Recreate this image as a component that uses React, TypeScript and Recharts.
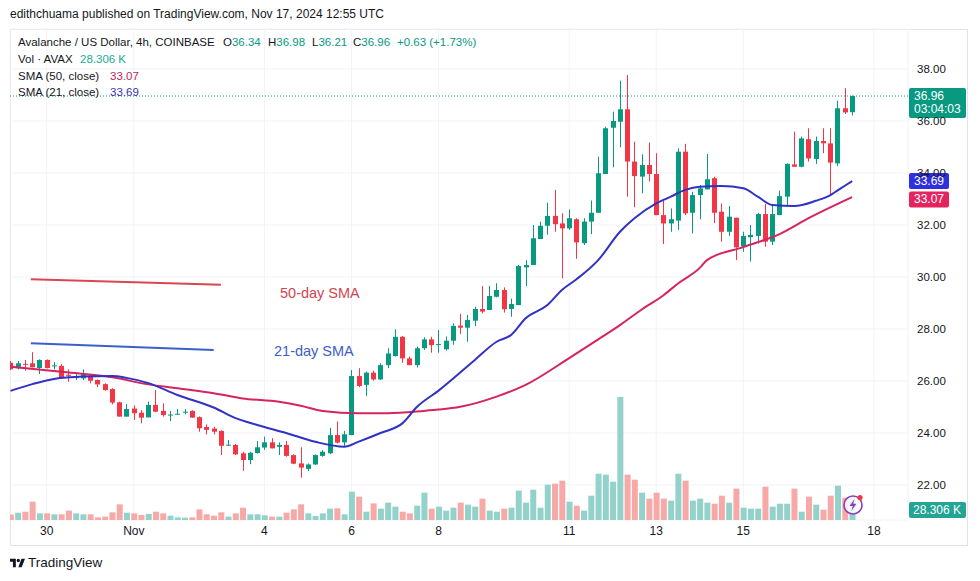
import {
  ComposedChart,
  Bar,
  Line,
  XAxis,
  YAxis,
  CartesianGrid,
  ReferenceLine,
  Cell,
} from "recharts";

const FONT = '"Liberation Sans", Arial, sans-serif';
const INK = "#131722";
const UP = "#089981";
const DOWN = "#f23645";
const VOL_UP = "#92d2ca";
const VOL_DOWN = "#f7a9a7";
const SMA50_COLOR = "#d6245e";
const SMA21_COLOR = "#3131c6";

// 4h candles, Oct 29 04:00 -> Nov 17 12:00
const opens = [
  26.7, 26.49, 26.66, 26.68, 26.5, 26.81, 26.58, 26.58, 26.24, 26.13,
  26.1, 26.17, 26.04, 25.88, 25.69, 25.18, 24.63, 24.94, 24.78, 24.6,
  25.08, 24.85, 24.68, 24.72, 24.8, 24.85, 24.61, 24.23, 24.17, 24.08,
  23.52, 23.54, 23.22, 22.96, 23.23, 23.44, 23.64, 23.47, 23.54, 23.15,
  22.83, 22.62, 22.79, 23.12, 23.22, 23.92, 23.64, 23.92, 26.19, 25.85,
  26.32, 26.06, 26.61, 26.96, 27.7, 26.87, 26.61, 27.26, 27.6, 27.38,
  27.22, 27.55, 28.13, 28.05, 28.32, 28.77, 28.73, 29.24, 29.5, 28.77,
  28.92, 30.37, 30.46, 31.46, 31.97, 32.35, 32.06, 31.87, 32.22, 31.3,
  32.13, 32.47, 33.96, 35.74, 35.97, 36.45, 34.44, 33.86, 34.31, 33.96,
  32.38, 32.06, 32.17, 34.82, 32.47, 33.15, 33.37, 33.8, 32.51, 31.74,
  32.28, 31.17, 31.53, 31.58, 32.42, 31.36, 32.38, 33.09, 34.33, 34.24,
  35.3, 34.54, 35.23, 35.14, 34.37, 36.49, 36.34,
];
const highs = [
  26.77, 26.77, 26.81, 27.11, 26.83, 26.83, 26.73, 26.65, 26.45, 26.3,
  26.45, 26.23, 26.06, 25.91, 25.72, 25.2, 25.11, 25.06, 24.88, 25.21,
  25.65, 25.14, 24.85, 24.92, 24.92, 24.87, 24.64, 24.33, 24.24, 24.1,
  23.73, 23.58, 23.28, 23.28, 23.69, 23.86, 23.8, 23.64, 23.7, 23.18,
  23.45, 22.83, 23.18, 23.35, 24.2, 24.44, 24.08, 26.42, 26.49, 26.36,
  26.4, 26.68, 27.26, 27.99, 27.73, 26.94, 27.32, 27.68, 27.7, 27.96,
  27.71, 28.22, 28.58, 28.54, 28.86, 29.65, 29.65, 29.76, 29.6, 29.17,
  30.46, 30.65, 32.0, 32.13, 32.86, 33.35, 32.45, 32.6, 32.26, 32.26,
  32.94, 34.63, 35.78, 36.36, 37.55, 37.77, 35.2, 34.72, 35.17, 34.76,
  32.96, 32.64, 34.95, 35.12, 33.28, 33.54, 34.73, 33.86, 32.83, 32.73,
  32.28, 31.74, 32.0, 32.47, 32.81, 32.73, 33.32, 34.37, 35.59, 35.4,
  35.72, 35.4, 35.72, 35.72, 36.78, 37.26, 36.98,
];
const lows = [
  26.42, 26.45, 26.4, 26.52, 26.27, 26.48, 26.45, 26.1, 25.97, 26.04,
  26.04, 25.91, 25.76, 25.63, 25.1, 24.63, 24.63, 24.5, 24.37, 24.6,
  24.8, 24.63, 24.46, 24.71, 24.72, 24.59, 24.05, 23.95, 23.95, 23.15,
  23.51, 23.15, 22.54, 22.8, 23.21, 23.35, 23.41, 23.15, 23.09, 22.8,
  22.28, 22.54, 22.77, 23.09, 23.19, 23.6, 23.47, 23.92, 25.76, 25.42,
  26.01, 26.04, 26.49, 26.94, 26.7, 26.61, 26.52, 27.19, 27.09, 27.09,
  27.17, 27.39, 27.81, 27.51, 28.11, 28.6, 28.73, 29.22, 28.63, 28.47,
  28.92, 29.65, 30.46, 31.46, 31.62, 31.74, 29.95, 31.81, 30.7, 31.23,
  31.65, 32.47, 33.96, 34.22, 34.99, 33.09, 32.68, 33.22, 33.67, 32.38,
  31.27, 31.74, 31.81, 32.38, 31.68, 32.22, 33.37, 32.07, 31.36, 31.58,
  30.65, 30.97, 30.59, 31.29, 31.17, 31.23, 32.38, 32.73, 34.24, 34.22,
  34.44, 34.35, 34.76, 33.15, 34.27, 36.27, 36.21,
];
const closes = [
  26.45, 26.68, 26.63, 26.53, 26.81, 26.5, 26.6, 26.14, 26.2, 26.15,
  26.26, 26.01, 25.87, 25.65, 25.17, 24.63, 24.92, 24.76, 24.59, 25.08,
  24.82, 24.69, 24.71, 24.74, 24.82, 24.59, 24.18, 24.12, 24.05, 23.51,
  23.55, 23.18, 22.96, 23.24, 23.45, 23.64, 23.41, 23.54, 23.12, 22.82,
  22.67, 22.79, 23.15, 23.28, 23.92, 23.63, 23.95, 26.19, 25.81, 26.32,
  26.06, 26.61, 27.06, 27.7, 26.87, 26.61, 27.26, 27.6, 27.38, 27.42,
  27.55, 28.12, 28.05, 28.35, 28.77, 28.67, 29.27, 29.5, 28.76, 28.96,
  30.42, 30.46, 31.49, 31.97, 32.35, 32.03, 31.87, 32.26, 31.33, 32.13,
  32.47, 33.99, 35.72, 36.0, 36.45, 34.44, 33.88, 34.31, 33.96, 32.38,
  32.06, 32.22, 34.82, 32.45, 33.15, 33.41, 33.76, 32.47, 31.74, 32.32,
  31.14, 31.58, 31.62, 32.42, 31.36, 32.42, 33.11, 34.35, 34.24, 35.33,
  34.56, 35.23, 35.14, 34.4, 36.49, 36.33, 36.96,
];
// volume, thousands of AVAX
const volumes = [
  7.0, 9.2, 10.4, 22.9, 8.3, 8.3, 7.1, 7.1, 11.7, 8.3,
  7.1, 7.1, 3.3, 4.2, 9.6, 19.6, 9.2, 8.3, 6.3, 7.5,
  10.4, 8.3, 5.4, 3.3, 2.9, 3.3, 13.3, 7.1, 5.4, 9.6,
  4.2, 8.3, 15.4, 7.1, 7.1, 5.8, 4.2, 4.2, 9.2, 13.3,
  19.6, 8.3, 5.0, 8.3, 14.2, 14.6, 7.1, 35.4, 29.2, 10.4,
  20.8, 14.2, 21.7, 16.7, 10.4, 8.3, 17.9, 34.2, 14.2, 16.7,
  11.7, 15.4, 21.7, 19.2, 16.7, 26.7, 11.7, 10.4, 14.2, 15.4,
  36.7, 21.7, 37.9, 15.4, 44.2, 45.4, 49.2, 22.9, 17.9, 11.7,
  30.4, 57.9, 56.7, 47.9, 154, 56.7, 50.4, 34.2, 26.7, 34.2,
  26.7, 24.2, 57.9, 49.2, 24.2, 26.7, 21.7, 20.4, 30.4, 21.7,
  39.2, 15.4, 14.2, 14.2, 41.7, 16.7, 20.4, 20.4, 39.2, 10.4,
  29.2, 19.2, 12.9, 30.4, 42.9, 28.0, 28.306,
];

// moving averages: [candle index, value]
const sma21Pts = [
  [0, 25.62], [3, 25.88], [6, 26.08], [10, 26.17], [14, 26.19], [16, 26.12],
  [19, 25.92], [23, 25.46], [28, 24.98], [31, 24.57], [34, 24.31], [38, 24.0],
  [42, 23.66], [46, 23.47], [48, 23.67], [51, 24.0], [54, 24.37], [56, 25.0],
  [59, 25.63], [64, 26.81], [67, 27.51], [69, 27.77], [71, 28.41], [74, 28.92],
  [76, 29.5], [78, 29.91], [81, 30.65], [84, 31.74], [86, 32.26], [89, 32.83],
  [91, 33.09], [93, 33.35], [95, 33.47], [98, 33.5], [101, 33.41], [103, 33.09],
  [105, 32.77], [108, 32.73], [111, 32.93], [113, 33.15], [114, 33.33],
  [115, 33.51], [116, 33.69],
];
const sma50Pts = [
  [0, 26.55], [7, 26.36], [14, 26.14], [19, 25.87], [23, 25.72], [28, 25.53],
  [32, 25.33], [37, 25.2], [40, 25.05], [43, 24.85], [48, 24.76], [52, 24.76],
  [57, 24.85], [59, 24.9], [62, 25.01], [67, 25.4], [71, 25.85], [77, 26.88],
  [81, 27.6], [84, 28.15], [87, 28.75], [90, 29.3], [92, 29.75], [95, 30.35],
  [96, 30.65], [101, 31.15], [106, 31.65], [110, 32.26], [116, 33.07],
];

// hand-drawn annotation lines (candle index, price)
const note50Line = [[2.8, 29.91], [29.0, 29.7]];
const note21Line = [[2.8, 27.45], [28.0, 27.19]];

const xTickIdx = [5, 17, 35, 47, 59, 77, 89, 101, 119];
const xTickLabels = ["30", "Nov", "4", "6", "8", "11", "13", "15", "18"];
const priceTicks = [22, 24, 26, 28, 30, 32, 34, 36, 38];

const X_DOMAIN = [-0.07, 123.7];
const P_DOMAIN = [20.654, 39.538];
const V_DOMAIN = [0, 614];

const candles = opens.map((o, i) => ({
  i,
  o,
  h: highs[i],
  l: lows[i],
  c: closes[i],
  v: volumes[i],
  range: [lows[i], highs[i]],
}));
const sma21Data = sma21Pts.map(([i, v]) => ({ i, v }));
const sma50Data = sma50Pts.map(([i, v]) => ({ i, v }));

function Candle(props: any) {
  const { x, y, width, height, payload } = props;
  if (!payload || x == null) return null;
  const { o, h, l, c } = payload;
  const color = c >= o ? UP : DOWN;
  const k = h === l ? 0 : height / (h - l);
  const top = y + (h - Math.max(o, c)) * k;
  const bot = y + (h - Math.min(o, c)) * k;
  const cx = Math.round(x + width / 2) + 0.5;
  return (
    <g>
      <line x1={cx} x2={cx} y1={y} y2={y + height} stroke={color} strokeWidth={1} />
      <rect x={cx - width / 2} y={top} width={width} height={Math.max(1, bot - top)} fill={color} />
    </g>
  );
}

function PriceTag(props: any) {
  const { viewBox, bg, lines, w, dy = 0 } = props;
  if (!viewBox) return null;
  const x = viewBox.x + viewBox.width + 1;
  const cy = viewBox.y + dy;
  const two = lines.length > 1;
  const h = two ? 30 : 16;
  const top = two ? cy - 8 : cy - h / 2;
  return (
    <g>
      <rect x={x} y={top} width={w} height={h} rx={2} fill={bg} />
      {lines.map((t: string, k: number) => (
        <text
          key={k}
          x={x + 5}
          y={top + 8 + k * 13}
          dominantBaseline="central"
          fill="#ffffff"
          fontSize={12}
          fontFamily={FONT}
        >
          {t}
        </text>
      ))}
    </g>
  );
}

function LightningIcon() {
  return (
    <svg width={26} height={26} style={{ position: "absolute", left: 840, top: 492 }}>
      <circle cx={13} cy={13} r={9} fill="rgba(255,255,255,0.8)" stroke="#8e3fb8" strokeWidth={1.6} />
      <path d="M14.5 7 L9.5 14 H12.8 L11.3 19 L16.5 11.8 H13.2 Z" fill="#8e3fb8" />
      <circle cx={20} cy={5.5} r={2.6} fill="#f23645" />
    </svg>
  );
}

export default function App() {
  const last = candles[candles.length - 1];
  const prev = candles[candles.length - 2];
  const chg = last.c - prev.c;
  const pct = (chg / prev.c) * 100;
  const sma21Last = sma21Data[sma21Data.length - 1].v;
  const sma50Last = sma50Data[sma50Data.length - 1].v;

  const legendRow = (top: number) => ({
    position: "absolute" as const,
    top,
    fontSize: 11.5,
    lineHeight: "14px",
    whiteSpace: "nowrap" as const,
  });

  return (
    <div
      style={{
        position: "absolute",
        left: 0,
        top: 0,
        width: 980,
        height: 581,
        background: "#ffffff",
        overflow: "hidden",
        fontFamily: FONT,
        color: INK,
      }}
    >
      <div style={{ position: "absolute", left: 10, top: 6, fontSize: 12, lineHeight: "16px" }}>
        edithchuama published on TradingView.com, Nov 17, 2024 12:55 UTC
      </div>

      <div
        style={{
          position: "absolute",
          left: 10,
          top: 29,
          width: 958,
          height: 517,
          border: "1px solid #e0e3eb",
          boxSizing: "border-box",
        }}
      />

      <ComposedChart
        width={980}
        height={581}
        data={candles}
        margin={{ top: 29, right: 0, bottom: 35, left: 10 }}
        style={{ position: "absolute", left: 0, top: 0 }}
      >
        <CartesianGrid xAxisId="a" yAxisId="price" stroke="#f0f3fa" />
        <XAxis
          xAxisId="a"
          dataKey="i"
          type="number"
          domain={X_DOMAIN}
          allowDataOverflow
          ticks={xTickIdx}
          interval={0}
          tickFormatter={(v) => xTickLabels[xTickIdx.indexOf(v)] ?? ""}
          axisLine={false}
          tickLine={false}
          tickSize={0}
          tickMargin={6}
          height={26}
          tick={{ fontSize: 12, fill: INK, fontFamily: FONT }}
        />
        <XAxis xAxisId="b" dataKey="i" type="number" domain={X_DOMAIN} allowDataOverflow hide />
        <YAxis
          yAxisId="price"
          orientation="right"
          domain={P_DOMAIN}
          allowDataOverflow
          ticks={priceTicks}
          interval={0}
          width={72}
          axisLine={false}
          tickLine={false}
          tickSize={0}
          tickMargin={9}
          tickFormatter={(v) => Number(v).toFixed(2)}
          tick={{ fontSize: 11.5, fill: INK, fontFamily: FONT }}
        />
        <YAxis yAxisId="vol" domain={V_DOMAIN} allowDataOverflow hide />

        <Bar xAxisId="b" yAxisId="vol" dataKey="v" barSize={6} isAnimationActive={false}>
          {candles.map((d) => (
            <Cell key={d.i} fill={d.c >= d.o ? VOL_UP : VOL_DOWN} />
          ))}
        </Bar>

        <Bar
          xAxisId="a"
          yAxisId="price"
          dataKey="range"
          barSize={5}
          shape={Candle}
          isAnimationActive={false}
        />

        <Line
          xAxisId="a"
          yAxisId="price"
          data={sma50Data}
          dataKey="v"
          type="monotone"
          stroke={SMA50_COLOR}
          strokeWidth={2}
          dot={false}
          isAnimationActive={false}
        />
        <Line
          xAxisId="a"
          yAxisId="price"
          data={sma21Data}
          dataKey="v"
          type="monotone"
          stroke={SMA21_COLOR}
          strokeWidth={2}
          dot={false}
          isAnimationActive={false}
        />

        <ReferenceLine
          xAxisId="a"
          yAxisId="price"
          segment={note50Line.map(([x, y]) => ({ x, y }))}
          stroke="#d9464e"
          strokeWidth={2}
        />
        <ReferenceLine
          xAxisId="a"
          yAxisId="price"
          segment={note21Line.map(([x, y]) => ({ x, y }))}
          stroke="#3c5fcc"
          strokeWidth={2}
        />

        <ReferenceLine
          xAxisId="a"
          yAxisId="price"
          y={last.c}
          stroke={UP}
          strokeDasharray="1 2"
          label={<PriceTag bg={UP} w={57} lines={[last.c.toFixed(2), "03:04:03"]} />}
        />
        <ReferenceLine
          xAxisId="a"
          yAxisId="price"
          y={sma21Last}
          stroke="none"
          label={<PriceTag bg="#2f2fe0" w={40} lines={[sma21Last.toFixed(2)]} />}
        />
        <ReferenceLine
          xAxisId="a"
          yAxisId="price"
          y={sma50Last}
          stroke="none"
          label={<PriceTag bg="#e3245f" w={40} dy={2.3} lines={[sma50Last.toFixed(2)]} />}
        />
      </ComposedChart>

      <div style={{ ...legendRow(35), left: 18 }}>Avalanche / US Dollar, 4h, COINBASE</div>
      <div style={{ ...legendRow(35), left: 223 }}>
        O<span style={{ color: UP }}>{last.o.toFixed(2)}</span>
      </div>
      <div style={{ ...legendRow(35), left: 268 }}>
        H<span style={{ color: UP }}>{last.h.toFixed(2)}</span>
      </div>
      <div style={{ ...legendRow(35), left: 312 }}>
        L<span style={{ color: UP }}>{last.l.toFixed(2)}</span>
      </div>
      <div style={{ ...legendRow(35), left: 353 }}>
        C<span style={{ color: UP }}>{last.c.toFixed(2)}</span>
      </div>
      <div style={{ ...legendRow(35), left: 397, color: UP }}>
        {`+${chg.toFixed(2)} (+${pct.toFixed(2)}%)`}
      </div>

      <div style={{ ...legendRow(52), left: 18 }}>Vol · AVAX</div>
      <div style={{ ...legendRow(52), left: 80, color: "#22ab94" }}>{`${last.v.toFixed(3)} K`}</div>
      <div style={{ ...legendRow(69), left: 18 }}>SMA (50, close)</div>
      <div style={{ ...legendRow(69), left: 110, color: "#b8285e" }}>{sma50Last.toFixed(2)}</div>
      <div style={{ ...legendRow(85), left: 18 }}>SMA (21, close)</div>
      <div style={{ ...legendRow(85), left: 110, color: "#3a31b8" }}>{sma21Last.toFixed(2)}</div>

      <div style={{ position: "absolute", left: 280, top: 285, fontSize: 14.5, color: "#d0464f" }}>
        50-day SMA
      </div>
      <div style={{ position: "absolute", left: 274, top: 343, fontSize: 14.5, color: "#3c5ec6" }}>
        21-day SMA
      </div>

      <LightningIcon />

      <div
        style={{
          position: "absolute",
          left: 909,
          top: 502,
          width: 57,
          height: 16,
          borderRadius: 2,
          background: "#22a594",
          color: "#ffffff",
          fontSize: 12,
          lineHeight: "16px",
          paddingLeft: 4,
          boxSizing: "border-box",
          whiteSpace: "nowrap",
        }}
      >
        {`${last.v.toFixed(3)} K`}
      </div>

      <svg width={15} height={12} viewBox="0 0 36 28" style={{ position: "absolute", left: 10, top: 557 }}>
        <path d="M14 24H7V11H0V4h14v20z" fill={INK} />
        <circle cx={20} cy={8} r={4} fill={INK} />
        <path d="M28 24h-8l7.5-20h8.5L28 24z" fill={INK} />
      </svg>
      <div style={{ position: "absolute", left: 28, top: 555, fontSize: 13.5, lineHeight: "16px", color: INK }}>
        TradingView
      </div>
    </div>
  );
}
